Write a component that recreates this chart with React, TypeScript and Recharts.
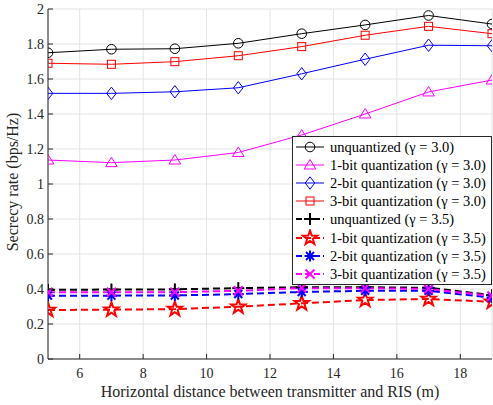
import React from 'react';
import { LineChart, Line, XAxis, YAxis, CartesianGrid, Legend } from 'recharts';

// horizontal distance (m)
const distances = [5, 7, 9, 11, 13, 15, 17, 19];

// gamma = 3.0
const unquantized30 = [1.75, 1.77, 1.773, 1.804, 1.859, 1.909, 1.963, 1.914];
const oneBit30 = [1.137, 1.122, 1.137, 1.18, 1.28, 1.4, 1.526, 1.594];
const twoBit30 = [1.518, 1.518, 1.527, 1.55, 1.63, 1.713, 1.793, 1.79];
const threeBit30 = [1.69, 1.684, 1.699, 1.733, 1.785, 1.85, 1.901, 1.859];

// gamma = 3.5
const unquantized35 = [0.395, 0.397, 0.398, 0.405, 0.41, 0.41, 0.407, 0.365];
const oneBit35 = [0.28, 0.282, 0.285, 0.299, 0.318, 0.337, 0.343, 0.327];
const twoBit35 = [0.362, 0.362, 0.363, 0.371, 0.383, 0.39, 0.39, 0.35];
const threeBit35 = [0.381, 0.381, 0.382, 0.39, 0.405, 0.405, 0.4, 0.36];

const xTicks = [6, 8, 10, 12, 14, 16, 18];
const yTicks = [0, 0.2, 0.4, 0.6, 0.8, 1, 1.2, 1.4, 1.6, 1.8, 2];

const data = distances.map((d, i) => ({
    d,
    u30: unquantized30[i],
    b1_30: oneBit30[i],
    b2_30: twoBit30[i],
    b3_30: threeBit30[i],
    u35: unquantized35[i],
    b1_35: oneBit35[i],
    b2_35: twoBit35[i],
    b3_35: threeBit35[i],
}));

const series = [
    { key: 'u30', name: 'unquantized (γ = 3.0)', color: '#000000', shape: 'circle', dashed: false },
    { key: 'b1_30', name: '1-bit quantization (γ = 3.0)', color: '#ff00ff', shape: 'triangle', dashed: false },
    { key: 'b2_30', name: '2-bit quantization (γ = 3.0)', color: '#0000ff', shape: 'diamond', dashed: false },
    { key: 'b3_30', name: '3-bit quantization (γ = 3.0)', color: '#ff0000', shape: 'square', dashed: false },
    { key: 'u35', name: 'unquantized (γ = 3.5)', color: '#000000', shape: 'plus', dashed: true },
    { key: 'b1_35', name: '1-bit quantization (γ = 3.5)', color: '#ff0000', shape: 'star', dashed: true },
    { key: 'b2_35', name: '2-bit quantization (γ = 3.5)', color: '#0000ff', shape: 'asterisk', dashed: true },
    { key: 'b3_35', name: '3-bit quantization (γ = 3.5)', color: '#ff00ff', shape: 'cross', dashed: true },
];

const FONT = "'Liberation Serif', 'Times New Roman', serif";
const AXIS = '#262626';
const tickText = { fontFamily: FONT, fontSize: 14, fill: AXIS };

function Marker({ shape, cx, cy, color }: { shape: string; cx: number; cy: number; color: string }) {
    const common = { fill: 'none', stroke: color };
    switch (shape) {
        case 'circle':
            return <circle cx={cx} cy={cy} r={4.8} {...common} strokeWidth={1} />;
        case 'triangle':
            return <path d={`M${cx},${cy - 5.5} L${cx + 5.8},${cy + 4} L${cx - 5.8},${cy + 4} Z`} {...common} strokeWidth={1} />;
        case 'diamond':
            return <path d={`M${cx},${cy - 6.2} L${cx + 4.8},${cy} L${cx},${cy + 6.2} L${cx - 4.8},${cy} Z`} {...common} strokeWidth={1} />;
        case 'square':
            return <rect x={cx - 4} y={cy - 4} width={8} height={8} {...common} strokeWidth={1} />;
        case 'plus':
            return (
                <g stroke={color} strokeWidth={2}>
                    <line x1={cx - 6} x2={cx + 6} y1={cy} y2={cy} />
                    <line x1={cx} x2={cx} y1={cy - 6} y2={cy + 6} />
                </g>
            );
        case 'star': {
            const pts: string[] = [];
            for (let k = 0; k < 10; k++) {
                const r = k % 2 === 0 ? 7.5 : 3;
                const a = -Math.PI / 2 + (k * Math.PI) / 5;
                pts.push(`${cx + r * Math.cos(a)},${cy + r * Math.sin(a)}`);
            }
            return <polygon points={pts.join(' ')} {...common} strokeWidth={2} />;
        }
        case 'asterisk':
            return (
                <g stroke={color} strokeWidth={2}>
                    <line x1={cx - 5.5} x2={cx + 5.5} y1={cy} y2={cy} />
                    <line x1={cx} x2={cx} y1={cy - 5.5} y2={cy + 5.5} />
                    <line x1={cx - 4} x2={cx + 4} y1={cy - 4} y2={cy + 4} />
                    <line x1={cx - 4} x2={cx + 4} y1={cy + 4} y2={cy - 4} />
                </g>
            );
        case 'cross':
            return (
                <g stroke={color} strokeWidth={2}>
                    <line x1={cx - 4.5} x2={cx + 4.5} y1={cy - 4.5} y2={cy + 4.5} />
                    <line x1={cx - 4.5} x2={cx + 4.5} y1={cy + 4.5} y2={cy - 4.5} />
                </g>
            );
        default:
            return null;
    }
}

const BottomTick = (props: any) => {
    const { x, y, payload } = props;
    return (
        <g>
            <line x1={x} x2={x} y1={y} y2={y - 5} stroke={AXIS} />
            <text x={x} y={y + 19} textAnchor="middle" style={tickText}>
                {payload.value}
            </text>
        </g>
    );
};

const TopTick = (props: any) => {
    const { x, y } = props;
    return <line x1={x} x2={x} y1={y} y2={y + 5} stroke={AXIS} />;
};

const LeftTick = (props: any) => {
    const { x, y, payload } = props;
    return (
        <g>
            <line x1={x} x2={x + 5} y1={y} y2={y} stroke={AXIS} />
            <text x={x - 4} y={y + 4.8} textAnchor="end" style={tickText}>
                {payload.value}
            </text>
        </g>
    );
};

const RightTick = (props: any) => {
    const { x, y } = props;
    return <line x1={x} x2={x - 5} y1={y} y2={y} stroke={AXIS} />;
};

const XTitle = (props: any) => {
    const { viewBox } = props;
    const cx = viewBox.x + viewBox.width / 2;
    return (
        <text x={cx} y={397} textAnchor="middle" style={{ fontFamily: FONT, fontSize: 16, fill: AXIS }}>
            Horizontal distance between transmitter and RIS (m)
        </text>
    );
};

const YTitle = () => (
    <text
        x={18}
        y={182}
        transform="rotate(-90 18 182)"
        textAnchor="middle"
        style={{ fontFamily: FONT, fontSize: 16, fill: AXIS }}
    >
        Secrecy rate (bps/Hz)
    </text>
);

const LegendBox = () => (
    <div
        style={{
            border: `1px solid ${AXIS}`,
            background: '#fff',
            padding: '1px 0',
            fontFamily: FONT,
            fontSize: 14.5,
            color: '#000',
        }}
    >
        {series.map((s) => (
            <div key={s.key} style={{ display: 'flex', alignItems: 'center', height: 18.1 }}>
                <svg width={37} height={18} style={{ flex: 'none' }}>
                    <line
                        x1={3}
                        x2={31}
                        y1={9}
                        y2={9}
                        stroke={s.color}
                        strokeWidth={s.dashed ? 2 : 1}
                        strokeDasharray={s.dashed ? '6 3' : undefined}
                    />
                    <Marker shape={s.shape} cx={17} cy={9} color={s.color} />
                </svg>
                <span style={{ whiteSpace: 'nowrap', lineHeight: '18px' }}>{s.name}</span>
            </div>
        ))}
    </div>
);

export default function App() {
    return (
        <div style={{ position: 'absolute', left: 0, top: 0, width: 493, height: 405, background: '#fff' }}>
            <LineChart width={493} height={405} data={data} margin={{ top: 9, right: 1, left: 0, bottom: 0 }}>
                <CartesianGrid stroke="#e3e3e3" strokeWidth={1} />
                <XAxis
                    dataKey="d"
                    type="number"
                    domain={[5, 19]}
                    ticks={xTicks}
                    height={46}
                    tickSize={0}
                    tickMargin={0}
                    tick={BottomTick}
                    axisLine={{ stroke: AXIS }}
                    allowDataOverflow
                    label={{ content: XTitle }}
                />
                <XAxis
                    xAxisId="top"
                    orientation="top"
                    type="number"
                    domain={[5, 19]}
                    ticks={xTicks}
                    height={0}
                    tickSize={0}
                    tickMargin={0}
                    tick={TopTick}
                    axisLine={{ stroke: AXIS }}
                    allowDataOverflow
                />
                <YAxis
                    type="number"
                    domain={[0, 2]}
                    ticks={yTicks}
                    width={48}
                    tickSize={0}
                    tickMargin={0}
                    tick={LeftTick}
                    axisLine={{ stroke: AXIS }}
                    allowDataOverflow
                    label={{ content: YTitle }}
                />
                <YAxis
                    yAxisId="right"
                    orientation="right"
                    type="number"
                    domain={[0, 2]}
                    ticks={yTicks}
                    width={0}
                    tickSize={0}
                    tickMargin={0}
                    tick={RightTick}
                    axisLine={{ stroke: AXIS }}
                    allowDataOverflow
                />
                {series.map((s) => (
                    <Line
                        key={s.key}
                        dataKey={s.key}
                        name={s.name}
                        stroke={s.color}
                        strokeWidth={s.dashed ? 2 : 1}
                        strokeDasharray={s.dashed ? '7 4' : undefined}
                        isAnimationActive={false}
                        dot={(p: any) => (
                            <Marker key={`${s.key}-${p.index}`} shape={s.shape} cx={p.cx} cy={p.cy} color={s.color} />
                        )}
                        activeDot={false}
                    />
                ))}
                <Legend
                    layout="vertical"
                    verticalAlign="middle"
                    align="center"
                    content={() => <LegendBox />}
                    wrapperStyle={{ left: 292, top: 136, width: 200, height: 'auto' }}
                />
            </LineChart>
        </div>
    );
}
